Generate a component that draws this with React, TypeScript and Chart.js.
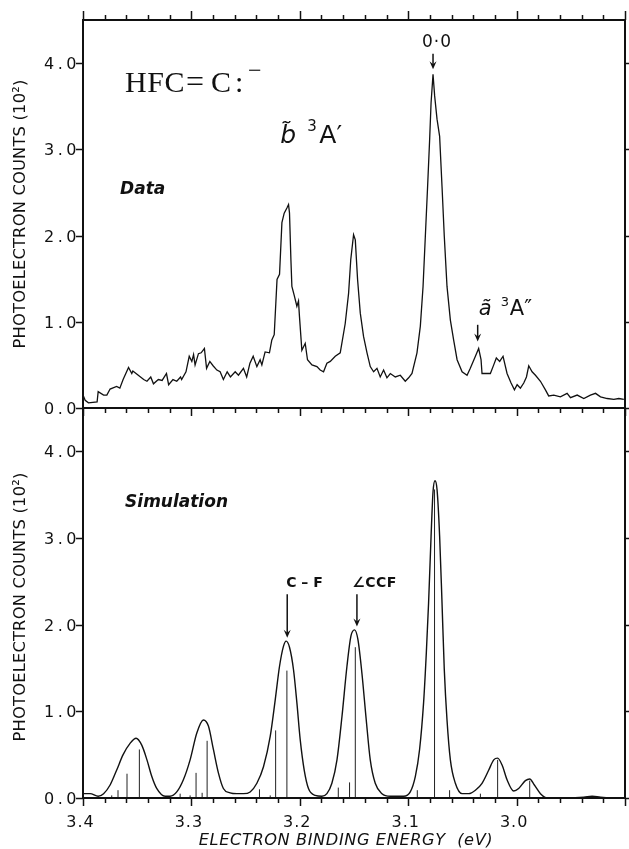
import React, { useEffect, useRef } from 'react';
import { Chart, registerables } from 'chart.js';
Chart.register(...registerables);

// ---------- Data (energies in eV, counts in units of 10^2) ----------
const dataEnergy = [
  3.400, 3.398, 3.395, 3.387, 3.386, 3.381, 3.378, 3.375, 3.369, 3.366, 3.363, 3.358, 3.355, 3.354, 3.349,
  3.344, 3.341, 3.3375, 3.335, 3.3305, 3.327, 3.323, 3.321, 3.317, 3.3135, 3.310, 3.309, 3.305, 3.302, 3.2996,
  3.298, 3.2966, 3.2935, 3.291, 3.288, 3.286, 3.283, 3.280, 3.2765, 3.2735, 3.2705, 3.267, 3.264, 3.2596,
  3.2566, 3.252, 3.249, 3.246, 3.243, 3.2396, 3.2366, 3.235, 3.232, 3.228, 3.2258, 3.2236, 3.221, 3.2187,
  3.2165, 3.2144, 3.2119, 3.2104, 3.2095, 3.2082, 3.2073, 3.2052, 3.2027, 3.2012, 3.2003, 3.1981, 3.195,
  3.1929, 3.1888, 3.1842, 3.1812, 3.1781, 3.175, 3.1719, 3.1673, 3.1627, 3.1581, 3.155, 3.153, 3.1504,
  3.1488, 3.1467, 3.1442, 3.1412, 3.138, 3.135, 3.1319, 3.1288, 3.1258, 3.1227, 3.1196, 3.1165, 3.1119,
  3.1073, 3.1027, 3.0996, 3.0965, 3.0919, 3.0888, 3.0863, 3.0842, 3.0821, 3.0802, 3.0789, 3.0771, 3.0756,
  3.0734, 3.071, 3.0688, 3.0667, 3.0642, 3.0611, 3.0581, 3.0549, 3.0503, 3.0457, 3.0427, 3.038, 3.035,
  3.0328, 3.0319, 3.0242, 3.0211, 3.0187, 3.0156, 3.0125, 3.0088, 3.0051, 3.002, 2.9995, 2.9965, 2.9934,
  2.9909, 2.9888, 2.9857, 2.9826, 2.978, 2.9734, 2.9704, 2.9657, 2.9596, 2.9534, 2.9503, 2.9441, 2.938,
  2.9319, 2.9272, 2.9226, 2.9164, 2.9103, 2.9057, 2.9011,
];
const dataCounts = [
  0.15, 0.09, 0.06, 0.07, 0.19, 0.15, 0.15, 0.22, 0.25, 0.23, 0.33, 0.47, 0.40, 0.43, 0.38,
  0.33, 0.31, 0.36, 0.28, 0.33, 0.32, 0.40, 0.27, 0.33, 0.31, 0.36, 0.33, 0.42, 0.60, 0.54,
  0.62, 0.50, 0.63, 0.64, 0.69, 0.46, 0.54, 0.49, 0.44, 0.42, 0.33, 0.42, 0.36, 0.42,
  0.38, 0.46, 0.36, 0.52, 0.60, 0.48, 0.56, 0.50, 0.65, 0.64, 0.79, 0.85, 1.49, 1.55,
  2.15, 2.26, 2.32, 2.36, 2.26, 1.72, 1.41, 1.31, 1.18, 1.24, 1.06, 0.67, 0.75,
  0.56, 0.50, 0.48, 0.44, 0.42, 0.52, 0.54, 0.60, 0.64, 0.98, 1.33, 1.72, 2.01,
  1.95, 1.49, 1.10, 0.83, 0.64, 0.48, 0.42, 0.46, 0.36, 0.44, 0.35, 0.40, 0.36,
  0.38, 0.31, 0.35, 0.40, 0.64, 0.95, 1.41, 1.99, 2.57, 3.12, 3.54, 3.87, 3.62,
  3.35, 3.15, 2.57, 1.99, 1.41, 1.02, 0.79, 0.56, 0.42, 0.38, 0.46, 0.60, 0.69,
  0.56, 0.40, 0.40, 0.50, 0.58, 0.54, 0.60, 0.40, 0.29, 0.21, 0.27, 0.23, 0.29,
  0.36, 0.49, 0.42, 0.38, 0.31, 0.21, 0.14, 0.15, 0.13, 0.17, 0.12, 0.15, 0.11,
  0.15, 0.17, 0.13, 0.11, 0.10, 0.11, 0.10,
];

const simEnergy = [
  3.400, 3.3935, 3.386, 3.381, 3.375, 3.369, 3.363, 3.3566, 3.351, 3.3458, 3.341, 3.3366, 3.332, 3.3243,
  3.3197, 3.3135, 3.3074, 3.3012, 3.295, 3.2889, 3.2843, 3.2797, 3.2751, 3.2705, 3.2643, 3.2581, 3.252,
  3.2458, 3.2396, 3.2335, 3.2273, 3.2227, 3.2187, 3.2151, 3.2126, 3.2095, 3.2058, 3.2027, 3.1996, 3.1959,
  3.192, 3.1858, 3.1796, 3.175, 3.1704, 3.1657, 3.1611, 3.1565, 3.1528, 3.1495, 3.1464, 3.1427, 3.1387,
  3.135, 3.1304, 3.1242, 3.1165, 3.1089, 3.1042, 3.0981, 3.0934, 3.0895, 3.0858, 3.0833, 3.0812, 3.0789,
  3.0771, 3.0753, 3.0734, 3.071, 3.0688, 3.0667, 3.0642, 3.0611, 3.0565, 3.0503, 3.0442, 3.038, 3.0319,
  3.0258, 3.0211, 3.0175, 3.0134, 3.0088, 3.0027, 2.9981, 2.9919, 2.9879, 2.9836, 2.978, 2.9718, 2.9626,
  2.938, 2.9303, 2.9226, 2.9042, 2.900,
];
const simCounts = [
  0.05, 0.05, 0.02, 0.05, 0.15, 0.32, 0.50, 0.63, 0.69, 0.61, 0.44, 0.25, 0.11, 0.02,
  0.02, 0.07, 0.21, 0.44, 0.75, 0.90, 0.83, 0.56, 0.29, 0.11, 0.06, 0.05, 0.05,
  0.07, 0.17, 0.36, 0.71, 1.13, 1.52, 1.75, 1.81, 1.74, 1.48, 1.10, 0.67, 0.32,
  0.11, 0.03, 0.02, 0.05, 0.17, 0.44, 0.94, 1.52, 1.87, 1.94, 1.83, 1.44, 0.90,
  0.44, 0.17, 0.05, 0.02, 0.02, 0.02, 0.07, 0.25, 0.56, 1.10, 1.67, 2.25, 3.02,
  3.53, 3.66, 3.56, 3.02, 2.25, 1.48, 0.90, 0.44, 0.17, 0.05, 0.05, 0.09, 0.17,
  0.32, 0.44, 0.46, 0.38, 0.21, 0.08, 0.11, 0.20, 0.22, 0.15, 0.05, 0.00, 0.00,
  0.01, 0.02, 0.01, 0.00, 0.00,
];

const stickEnergy = [
  3.3735, 3.3677, 3.3594, 3.348, 3.3104, 3.3012, 3.2957, 3.2901, 3.2855, 3.2372, 3.2273, 3.2223, 3.2119,
  3.1645, 3.1541, 3.1488, 3.0916, 3.0757, 3.0618, 3.0334, 3.0175, 2.9879,
];
const stickCounts = [
  0.03, 0.09, 0.28, 0.56, 0.05, 0.03, 0.29, 0.06, 0.66, 0.10, 0.03, 0.78, 1.47,
  0.12, 0.18, 1.74, 0.09, 3.56, 0.09, 0.05, 0.44, 0.20,
];

const yTickValues = [0, 1, 2, 3, 4];
const yTickLabels = ['0.0', '1.0', '2.0', '3.0', '4.0'];
const xMajorValues = [3.4, 3.3, 3.2, 3.1, 3.0, 2.9];
const xMajorLabels = ['3.4', '3.3', '3.2', '3.1', '3.0', ''];
const xMinorValues = [
  3.38, 3.36, 3.34, 3.32, 3.28, 3.26, 3.24, 3.22, 3.18, 3.16, 3.14, 3.12,
  3.08, 3.06, 3.04, 3.02, 2.98, 2.96, 2.94, 2.92,
];
const yTitle = 'PHOTOELECTRON COUNTS (10\u00B2)';
const xTitle = 'ELECTRON BINDING ENERGY  (eV)';
const xMin = 2.9;
const xMax = 3.4;
const yMin = 0;
const yMax = 4.5;

const SANS = '"DejaVu Sans", sans-serif';
const SERIF = '"Liberation Serif", serif';
const INK = '#111';

function text(ctx: any, s: string, x: number, y: number, font: string, align: string = 'left', spacing: string = '0px', baseline: string = 'alphabetic') {
  ctx.font = font;
  ctx.textAlign = align;
  ctx.textBaseline = baseline;
  ctx.letterSpacing = spacing;
  ctx.fillText(s, x, y);
  ctx.letterSpacing = '0px';
}

function arrowDown(ctx: any, x: number, y1: number, y2: number) {
  ctx.beginPath();
  ctx.lineWidth = 1.5;
  ctx.moveTo(x, y1);
  ctx.lineTo(x, y2 - 3);
  ctx.stroke();
  ctx.beginPath();
  ctx.moveTo(x - 3.5, y2 - 8);
  ctx.lineTo(x, y2);
  ctx.lineTo(x + 3.5, y2 - 8);
  ctx.lineTo(x, y2 - 5);
  ctx.closePath();
  ctx.fill();
}

function drawFrame(chart: any, o: any) {
  const ctx = chart.ctx;
  const xs = chart.scales.x;
  const ys = chart.scales.y;
  const { left, right, top, bottom } = chart.chartArea;
  ctx.save();
  ctx.strokeStyle = INK;
  ctx.fillStyle = INK;
  ctx.lineWidth = 2;
  ctx.strokeRect(left, top, right - left, bottom - top);
  ctx.lineWidth = 1.5;
  const vt = (v: number, edge: number, len: number) => {
    const x = Math.round(xs.getPixelForValue(v)) + 0.5;
    ctx.beginPath();
    ctx.moveTo(x, edge);
    ctx.lineTo(x, edge + len);
    ctx.stroke();
  };
  if (o.topTicks) {
    xMajorValues.forEach((v) => vt(v, top, -9));
    xMinorValues.forEach((v) => vt(v, top, -5));
  }
  xMajorValues.forEach((v) => vt(v, bottom, 8));
  xMinorValues.forEach((v) => vt(v, bottom, 5));
  yTickValues.forEach((v, i) => {
    const y = Math.round(ys.getPixelForValue(v)) + 0.5;
    ctx.beginPath();
    ctx.moveTo(left - 7, y);
    ctx.lineTo(left, y);
    ctx.moveTo(right, y);
    ctx.lineTo(right + 4, y);
    ctx.stroke();
    text(ctx, yTickLabels[i], left - 3, y + 1, '16px ' + SANS, 'right', '3.5px', 'middle');
  });
  if (o.xLabels) {
    xMajorValues.forEach((v, i) => {
      const x = xs.getPixelForValue(v);
      text(ctx, xMajorLabels[i], x - 2.5, bottom + 29, '16px ' + SANS, 'center', '1px');
    });
    text(ctx, xTitle, (left + right) / 2 - 8, bottom + 47, 'oblique 16.2px ' + SANS, 'center', '0.6px');
  }
  // y title
  ctx.save();
  ctx.translate(left - 62, (top + bottom) / 2 + o.titleShift);
  ctx.rotate(-Math.PI / 2);
  text(ctx, yTitle, 0, 0, '16.3px ' + SANS, 'center', '0.2px', 'middle');
  ctx.restore();
  o.annotate(ctx, (v: number) => xs.getPixelForValue(v), (v: number) => ys.getPixelForValue(v));
  ctx.restore();
}

function annotateTop(ctx: any, X: (v: number) => number, Y: (v: number) => number) {
  // HFC=C:-
  const hx = X(3.3612);
  const hy = Y(3.66);
  text(ctx, 'HFC', hx, hy, '30px ' + SERIF, 'left', '0.5px');
  text(ctx, '=', hx + 61, hy, '32px ' + SERIF, 'left');
  text(ctx, 'C', hx + 86, hy, '30px ' + SERIF, 'left');
  text(ctx, ':', hx + 110, hy, '30px ' + SERIF, 'left');
  text(ctx, '\u2212', hx + 123, hy - 14, '24px ' + SERIF, 'left');
  // Data
  text(ctx, 'Data', X(3.3658), Y(2.48), 'bold oblique 17px ' + SANS, 'left');
  // b~ 3A'
  const bx = X(3.218);
  const by = Y(3.07);
  text(ctx, 'b\u0303', bx, by, 'oblique 25px ' + SANS, 'left');
  text(ctx, '3', bx + 27, by - 12, '15px ' + SANS, 'left');
  text(ctx, 'A\u2032', bx + 39, by, '25px ' + SANS, 'left');
  // 0-0
  text(ctx, '0\u00B70', X(3.0735), Y(4.19), '17px ' + SANS, 'center', '1px');
  arrowDown(ctx, X(3.0771), Y(4.11), Y(3.93));
  // a~ 3A''
  const ax = X(3.0349);
  const ay = Y(1.08);
  text(ctx, 'a\u0303', ax, ay, 'oblique 21px ' + SANS, 'left');
  text(ctx, '3', ax + 22, ay - 9, '13px ' + SANS, 'left');
  text(ctx, 'A\u2033', ax + 31, ay, '21px ' + SANS, 'left');
  arrowDown(ctx, X(3.0359), Y(0.965), Y(0.77));
}

function annotateBottom(ctx: any, X: (v: number) => number, Y: (v: number) => number) {
  text(ctx, 'Simulation', X(3.3612), Y(3.36), 'bold oblique 17px ' + SANS, 'left');
  text(ctx, 'C \u2013 F', X(3.2116) - 1, Y(2.43), 'bold 14px ' + SANS, 'left');
  arrowDown(ctx, X(3.2116), Y(2.35), Y(1.85));
  text(ctx, '\u2220CCF', X(3.1516), Y(2.43), 'bold 14px ' + SANS, 'left', '0.5px');
  arrowDown(ctx, X(3.1473), Y(2.35), Y(1.98));
}

function baseOptions(padding: any) {
  return {
    responsive: false,
    maintainAspectRatio: false,
    animation: false as const,
    events: [] as any[],
    layout: { padding },
    plugins: { legend: { display: false }, tooltip: { enabled: false } },
    scales: {
      x: { type: 'linear' as const, min: xMin, max: xMax, reverse: true, display: false },
      y: { type: 'linear' as const, min: yMin, max: yMax, display: false },
    },
    elements: { point: { radius: 0 } },
  };
}

export default function App() {
  const topRef = useRef<HTMLCanvasElement | null>(null);
  const botRef = useRef<HTMLCanvasElement | null>(null);

  useEffect(() => {
    const dataPts = dataEnergy.map((e, i) => ({ x: e, y: dataCounts[i] }));
    const simPts = simEnergy.map((e, i) => ({ x: e, y: simCounts[i] }));
    const stickPts: any[] = [];
    stickEnergy.forEach((e, i) => {
      stickPts.push({ x: e, y: 0 }, { x: e, y: stickCounts[i] }, { x: e, y: null });
    });

    const topChart = new Chart(topRef.current as HTMLCanvasElement, {
      type: 'line',
      data: {
        datasets: [
          {
            label: 'Data',
            data: dataPts,
            borderColor: INK,
            borderWidth: 1.3,
            pointRadius: 0,
            tension: 0,
            fill: false,
          },
        ],
      },
      options: baseOptions({ left: 83, right: 4, top: 20, bottom: 12 }) as any,
      plugins: [
        {
          id: 'frameTop',
          afterDraw: (c: any) => drawFrame(c, { topTicks: true, xLabels: false, titleShift: 0, annotate: annotateTop }),
        },
      ],
    });

    const botChart = new Chart(botRef.current as HTMLCanvasElement, {
      type: 'line',
      data: {
        datasets: [
          {
            label: 'Simulation',
            data: simPts,
            borderColor: INK,
            borderWidth: 1.4,
            pointRadius: 0,
            cubicInterpolationMode: 'monotone',
            fill: false,
          },
          {
            label: 'Sticks',
            data: stickPts,
            borderColor: '#222',
            borderWidth: 1,
            pointRadius: 0,
            spanGaps: false,
            tension: 0,
            fill: false,
          },
        ],
      },
      options: baseOptions({ left: 83, right: 4, top: 8, bottom: 51 }) as any,
      plugins: [
        {
          id: 'frameBottom',
          afterDraw: (c: any) => drawFrame(c, { topTicks: false, xLabels: true, titleShift: 4, annotate: annotateBottom }),
        },
      ],
    });

    return () => {
      topChart.destroy();
      botChart.destroy();
    };
  }, []);

  return (
    <div style={{ position: 'absolute', left: 0, top: 0, width: 629, height: 849, background: '#fff', overflow: 'hidden' }}>
      <canvas ref={topRef} width={629} height={420} style={{ position: 'absolute', left: 0, top: 0, width: 629, height: 420 }} />
      <canvas ref={botRef} width={629} height={449} style={{ position: 'absolute', left: 0, top: 400, width: 629, height: 449 }} />
    </div>
  );
}
